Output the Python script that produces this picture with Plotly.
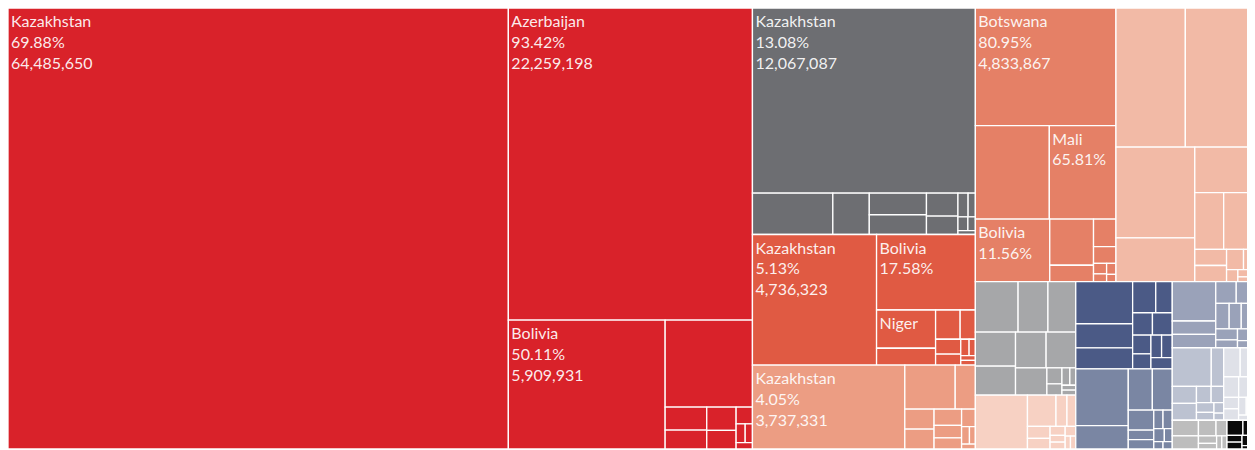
import plotly.graph_objects as go

# ---- top-level product groups and colours (in drawing order) ----
group_names = [
    "Mineral fuels", "Base metals", "Ores, slag and ash", "Chemical products",
    "Precious stones and metals", "Vegetable products",
    "Textiles", "Animal products", "Machinery", "Foodstuffs",
    "Plastics and rubbers", "Transportation", "Instruments",
    "Paper goods", "Miscellaneous",
]
group_colors = [
    "#d9222a", "#6d6e72", "#e05a43", "#ec9d83", "#e58066", "#f2baa6",
    "#a6a7a9", "#f7d1c3", "#4b5a86", "#7a86a3", "#9aa2b9", "#bcc2d1",
    "#dfe1e8", "#bdbdbd", "#0a0a0a",
]

# ---- country values per group (thousands USD) ----
fuels_countries = ["Kazakhstan", "Azerbaijan", "Bolivia", "Turkmenistan", "Mongolia", "Chad",
                   "Uzbekistan", "Kyrgyzstan", "Paraguay", "Lao PDR", "Armenia", "Moldova"]
fuels_values = [64485650, 22259198, 5909931, 2220000, 280000, 230000,
                200000, 160000, 80000, 50000, 40000, 30000]

metals_countries = ["Kazakhstan", "Uzbekistan", "Armenia", "Kyrgyzstan", "Tajikistan", "Azerbaijan",
                    "Moldova", "North Macedonia", "Mongolia", "Bolivia", "Paraguay", "Lao PDR"]
metals_values = [12067087, 970000, 440000, 360000, 330000, 210000,
                 170000, 70000, 50000, 40000, 30000, 20000]

ores_countries = ["Kazakhstan", "Bolivia", "Niger", "Mongolia", "Lao PDR", "Armenia",
                  "Kyrgyzstan", "Zimbabwe", "Rwanda", "Burundi", "Zambia", "Tajikistan"]
ores_values = [4736323, 2180000, 660000, 290000, 210000, 130000,
               110000, 80000, 40000, 30000, 20000, 20000]

chemical_countries = ["Kazakhstan", "Uzbekistan", "Bolivia", "Azerbaijan", "Kyrgyzstan", "Armenia",
                      "Moldova", "Zambia", "Mongolia", "Paraguay", "Lao PDR", "Tajikistan"]
chemical_values = [3737331, 650000, 260000, 170000, 170000, 130000,
                   100000, 90000, 70000, 40000, 30000, 20000]

precious_countries = ["Botswana", "Burkina Faso", "Mali", "Bolivia", "Kyrgyzstan", "Zimbabwe",
                      "Armenia", "Lesotho", "Uzbekistan", "Tajikistan", "Lao PDR", "Nepal"]
precious_values = [4833867, 2020000, 1820000, 1360000, 590000, 210000,
                   180000, 110000, 40000, 30000, 30000, 20000]

vegetable_countries = ["Paraguay", "Ethiopia", "Kazakhstan", "Uzbekistan", "Bolivia", "Uganda",
                       "Malawi", "Rwanda", "Kyrgyzstan", "Burkina Faso", "Lao PDR", "Nepal",
                       "Afghanistan", "Tajikistan"]
vegetable_values = [2820000, 2710000, 2090000, 1010000, 760000, 480000,
                    470000, 150000, 150000, 100000, 50000, 40000, 30000, 20000]

textile_countries = ["Uzbekistan", "Lao PDR", "Kyrgyzstan", "Nepal", "Lesotho", "Ethiopia",
                     "Mali", "Burkina Faso", "Chad", "Tajikistan", "Moldova", "Eswatini",
                     "Bhutan", "Afghanistan"]
textile_values = [630000, 440000, 410000, 400000, 340000, 320000,
                  310000, 250000, 70000, 50000, 40000, 30000, 20000, 20000]

animal_countries = ["Paraguay", "Ethiopia", "Uganda", "Kazakhstan", "Botswana", "Mongolia",
                    "Bolivia", "Moldova", "Kyrgyzstan", "Zimbabwe", "Armenia", "Nepal"]
animal_values = [820000, 260000, 100000, 80000, 80000, 70000,
                 40000, 30000, 30000, 30000, 20000, 20000]

machinery_countries = ["Kazakhstan", "North Macedonia", "Moldova", "Paraguay", "Uzbekistan", "Armenia",
                       "Azerbaijan", "Lao PDR", "Mongolia", "Kyrgyzstan", "Zambia", "Uganda"]
machinery_values = [700000, 400000, 350000, 210000, 150000, 130000,
                    130000, 100000, 80000, 70000, 70000, 70000]

food_countries = ["Paraguay", "Eswatini", "Moldova", "Kazakhstan", "Zambia", "Malawi",
                  "Uganda", "Uzbekistan", "Bolivia", "Azerbaijan", "Nepal", "Armenia", "Ethiopia"]
food_values = [870000, 360000, 290000, 240000, 150000, 70000,
               70000, 50000, 50000, 40000, 30000, 20000, 20000]

plastic_countries = ["Kazakhstan", "Paraguay", "Uzbekistan", "Azerbaijan", "Moldova", "North Macedonia",
                     "Bolivia", "Ethiopia", "Kyrgyzstan", "Armenia", "Zambia", "Nepal"]
plastic_values = [500000, 170000, 170000, 130000, 100000, 100000,
                  90000, 80000, 70000, 50000, 50000, 30000]

transport_countries = ["Kazakhstan", "Uzbekistan", "North Macedonia", "Azerbaijan", "Moldova",
                       "Paraguay", "Mongolia", "Lao PDR", "Zambia", "Armenia"]
transport_values = [440000, 140000, 120000, 120000, 70000, 60000, 50000, 40000, 30000, 20000]

instrument_countries = ["Kazakhstan", "Moldova", "North Macedonia", "Armenia", "Uzbekistan",
                        "Azerbaijan", "Paraguay", "Mongolia", "Lao PDR"]
instrument_values = [140000, 100000, 90000, 80000, 50000, 50000, 40000, 30000, 20000]

paper_countries = ["Kazakhstan", "Uzbekistan", "Paraguay", "Moldova", "Eswatini", "Bolivia",
                   "Armenia", "Nepal"]
paper_values = [120000, 100000, 80000, 50000, 40000, 30000, 20000, 20000]

misc_countries = ["Kazakhstan", "Moldova", "Armenia", "Uzbekistan", "Kyrgyzstan", "Paraguay", "Nepal"]
misc_values = [70000, 40000, 30000, 30000, 20000, 10000, 10000]

# share of each country's total exports, for the tiles that carry a label
shares = {
    ("Mineral fuels", "Kazakhstan"): 69.88,
    ("Mineral fuels", "Azerbaijan"): 93.42,
    ("Mineral fuels", "Bolivia"): 50.11,
    ("Base metals", "Kazakhstan"): 13.08,
    ("Precious stones and metals", "Botswana"): 80.95,
    ("Precious stones and metals", "Mali"): 65.81,
    ("Precious stones and metals", "Bolivia"): 11.56,
    ("Ores, slag and ash", "Kazakhstan"): 5.13,
    ("Ores, slag and ash", "Bolivia"): 17.58,
    ("Ores, slag and ash", "Niger"): None,
    ("Chemical products", "Kazakhstan"): 4.05,
}
# number of label lines (name / share / value) visible in each labelled tile
label_lines = {
    ("Mineral fuels", "Kazakhstan"): 3,
    ("Mineral fuels", "Azerbaijan"): 3,
    ("Mineral fuels", "Bolivia"): 3,
    ("Base metals", "Kazakhstan"): 3,
    ("Precious stones and metals", "Botswana"): 3,
    ("Precious stones and metals", "Mali"): 2,
    ("Precious stones and metals", "Bolivia"): 2,
    ("Ores, slag and ash", "Kazakhstan"): 3,
    ("Ores, slag and ash", "Bolivia"): 2,
    ("Ores, slag and ash", "Niger"): 1,
    ("Chemical products", "Kazakhstan"): 3,
}

group_children = [
    (fuels_countries, fuels_values), (metals_countries, metals_values),
    (ores_countries, ores_values), (chemical_countries, chemical_values),
    (precious_countries, precious_values), (vegetable_countries, vegetable_values),
    (textile_countries, textile_values), (animal_countries, animal_values),
    (machinery_countries, machinery_values), (food_countries, food_values),
    (plastic_countries, plastic_values), (transport_countries, transport_values),
    (instrument_countries, instrument_values), (paper_countries, paper_values),
    (misc_countries, misc_values),
]

ids, labels, parents, values, colors, texts = [], [], [], [], [], []
ids.append("root"); labels.append(""); parents.append("")
values.append(sum(sum(v) for _, v in group_children)); colors.append("#ffffff"); texts.append("")

for gname, gcolor, (cs, vs) in zip(group_names, group_colors, group_children):
    ids.append(gname); labels.append(gname); parents.append("root")
    values.append(sum(vs)); colors.append(gcolor); texts.append("")
    for c, v in sorted(zip(cs, vs), key=lambda t: -t[1]):
        ids.append(gname + "/" + c); labels.append(c); parents.append(gname)
        values.append(v); colors.append(gcolor)
        key = (gname, c)
        if key in label_lines:
            s = shares.get(key)
            parts = [c]
            if s is not None:
                parts.append(f"{s:.2f}%")
            parts.append(f"{v:,}")
            texts.append("<br>".join(parts[:label_lines[key]]))
        else:
            texts.append("")

fig = go.Figure(go.Treemap(
    ids=ids, labels=labels, parents=parents, values=values,
    branchvalues="total", sort=False,
    text=texts, textinfo="text", textposition="top left",
    textfont=dict(family="Lato, Liberation Sans, sans-serif",
                  size=16, color="rgba(255,255,255,0.92)"),
    marker=dict(colors=colors, line=dict(color="#ffffff", width=1.3),
                pad=dict(t=0, l=0, r=0, b=0)),
    tiling=dict(packing="squarify", squarifyratio=1.618, pad=0),
    pathbar=dict(visible=False),
    root=dict(color="#ffffff"),
    hovertemplate="%{label}<br>%{value:,}<extra></extra>",
))
fig.update_layout(
    width=1244, height=441,
    margin=dict(l=0, r=0, t=0, b=0),
    paper_bgcolor="#ffffff",
    uniformtext=dict(minsize=16, mode="show"),
)
fig.write_html("out.html")
